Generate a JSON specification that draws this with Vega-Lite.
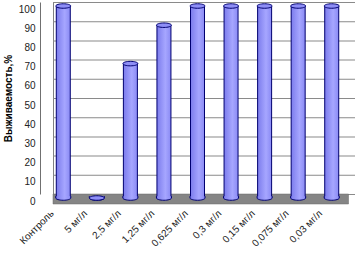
{
  "$schema": "https://vega.github.io/schema/vega-lite/v6.json",
  "width": 302,
  "height": 192,
  "autosize": {"type": "none"},
  "padding": {"left": 53, "top": 2, "right": 0, "bottom": 60},
  "background": "white",
  "config": {
    "view": {"stroke": "#808080", "strokeWidth": 1},
    "font": "Liberation Sans",
    "axisY": {"values": [0, 10, 20, 30, 40, 50, 60, 70, 80, 90, 100], "labelOverlap": false, "offset": 13, "labelOffset": 7, "ticks": false, "labelPadding": 5, "domainColor": "#707070", "domainWidth": 1, "grid": false, "labelFontSize": 10, "labelColor": "#222", "titleFontSize": 10, "titleFontWeight": "bold", "titleColor": "#000", "titlePadding": 5}
  },
  "data": {
    "values": [
      {"cat": "Контроль", "v": 100},
      {"cat": "5 мг/л", "v": 0},
      {"cat": "2,5 мг/л", "v": 70},
      {"cat": "1,25 мг/л", "v": 90},
      {"cat": "0,625 мг/л", "v": 100},
      {"cat": "0,3 мг/л", "v": 100},
      {"cat": "0,15 мг/л", "v": 100},
      {"cat": "0,075 мг/л", "v": 100},
      {"cat": "0,03 мг/л", "v": 100}
    ]
  },
  "layer": [
    {
      "data": {"values": [{"g": 0}, {"g": 10}, {"g": 20}, {"g": 30}, {"g": 40}, {"g": 50}, {"g": 60}, {"g": 70}, {"g": 80}, {"g": 90}, {"g": 100}]},
      "mark": {"type": "rect", "fill": "#8a8a8a", "strokeWidth": 0, "y2Offset": 1},
      "encoding": {
        "y": {"field": "g", "type": "quantitative", "scale": {"domain": [0, 100], "nice": false}, "title": "Выживаемость,%", "axis": {"values": [0, 10, 20, 30, 40, 50, 60, 70, 80, 90, 100], "grid": false}},
        "y2": {"field": "g"}
      }
    },
    {
      "data": {"values": [{"v": 0}]},
      "mark": {"type": "rect", "fill": "#858585", "stroke": "#6a6a6a", "strokeWidth": 0.5, "xOffset": -6.5, "x2Offset": -6.5, "y2Offset": 10},
      "encoding": {
        "y": {"field": "v", "type": "quantitative", "scale": {"domain": [0, 100], "nice": false}, "title": "Выживаемость,%", "axis": {"values": [0, 10, 20, 30, 40, 50, 60, 70, 80, 90, 100], "grid": false}},
        "y2": {"field": "v"}
      }
    },
    {
      "encoding": {
        "x": {
          "field": "cat", "type": "nominal", "sort": null,
          "scale": {"paddingInner": 0, "paddingOuter": 0},
          "axis": null
        },
        "y": {
          "field": "v", "type": "quantitative",
          "scale": {"domain": [0, 100], "nice": false},
          "title": "Выживаемость,%",
          "axis": {"values": [0, 10, 20, 30, 40, 50, 60, 70, 80, 90, 100], "grid": false}
        }
      },
      "layer": [
        {
          "mark": {
            "type": "bar", "size": 14, "xOffset": -6.5, "x2Offset": -6.5, "yOffset": 4, "y2Offset": 4,
            "fill": {"gradient": "linear", "x1": 0, "x2": 1, "y1": 0, "y2": 0, "stops": [{"offset": 0, "color": "#7c7cec"}, {"offset": 0.6, "color": "#a6a6ff"}, {"offset": 1, "color": "#8a8af4"}]},
            "stroke": "#000070", "strokeWidth": 1
          }
        },
        {
          "mark": {
            "type": "point", "shape": "M-1,-0.25 L-1,0 A1,0.3 0 0,0 1,0 L1,-0.25", "size": 225, "filled": true, "opacity": 1,
            "xOffset": -6.5, "yOffset": 4,
            "fill": {"gradient": "linear", "x1": 0, "x2": 1, "y1": 0, "y2": 0, "stops": [{"offset": 0, "color": "#7c7cec"}, {"offset": 0.6, "color": "#a6a6ff"}, {"offset": 1, "color": "#8a8af4"}]},
            "stroke": "#000070", "strokeWidth": 1
          },
          "encoding": {
            "y": {"datum": 0, "type": "quantitative", "scale": {"domain": [0, 100], "nice": false}, "title": "Выживаемость,%", "axis": {"values": [0, 10, 20, 30, 40, 50, 60, 70, 80, 90, 100], "grid": false}}
          }
        },
        {
          "mark": {
            "type": "point", "shape": "M-1,0 A1,0.3 0 1,0 1,0 A1,0.3 0 1,0 -1,0 Z", "size": 225, "filled": true, "opacity": 1,
            "xOffset": -6.5, "yOffset": 4,
            "fill": "#8e8ef6", "stroke": "#000070", "strokeWidth": 1
          }
        },
        {
          "mark": {"type": "text", "angle": -45, "align": "right", "baseline": "middle", "fontSize": 10, "color": "#222", "xOffset": -17.5, "yOffset": 18},
          "encoding": {
            "y": {"datum": 0, "type": "quantitative", "scale": {"domain": [0, 100], "nice": false}, "title": "Выживаемость,%", "axis": {"values": [0, 10, 20, 30, 40, 50, 60, 70, 80, 90, 100], "grid": false}},
            "text": {"field": "cat"}
          }
        }
      ]
    }
  ]
}
